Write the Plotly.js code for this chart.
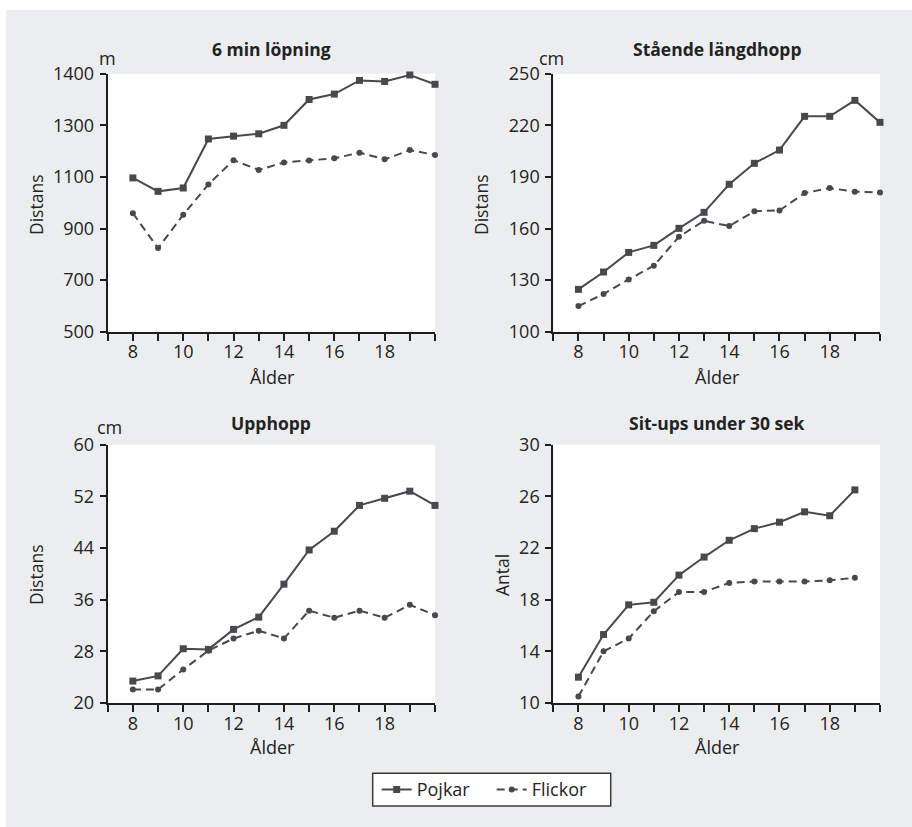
<!DOCTYPE html>
<html>
<head>
<meta charset="utf-8">
<script src="https://cdn.plot.ly/plotly-3.0.1.min.js"></script>
<style>html,body{margin:0;padding:0;background:#fff;}#chart{width:912px;height:827px;}</style>
</head>
<body>
<div id="chart"></div>
<script>
// ---- data ----
const ages = [8, 9, 10, 11, 12, 13, 14, 15, 16, 17, 18, 19, 20];
const agesSitups = [8, 9, 10, 11, 12, 13, 14, 15, 16, 17, 18, 19];

const runBoys   = [1096, 1044, 1057, 1247, 1258, 1267, 1300, 1400, 1421, 1474, 1470, 1495, 1459];
const runGirls  = [959, 824, 953, 1071, 1165, 1127, 1156, 1164, 1172, 1194, 1168, 1204, 1185];

const jumpBoys  = [124.6, 134.7, 146.1, 150.2, 160.1, 169.4, 185.7, 197.9, 205.6, 225.2, 225.2, 234.5, 221.7];
const jumpGirls = [114.9, 121.9, 130.4, 138.4, 155.2, 164.5, 161.4, 170.0, 170.5, 180.6, 183.5, 181.4, 181.0];

const vjumpBoys  = [23.4, 24.2, 28.4, 28.3, 31.4, 33.3, 38.4, 43.7, 46.6, 50.6, 51.7, 52.8, 50.6];
const vjumpGirls = [22.1, 22.1, 25.2, 28.1, 30.0, 31.2, 30.0, 34.3, 33.2, 34.3, 33.2, 35.2, 33.6];

const situpBoys  = [12.0, 15.3, 17.6, 17.8, 19.9, 21.3, 22.6, 23.5, 24.0, 24.8, 24.5, 26.5];
const situpGirls = [10.5, 14.0, 15.0, 17.1, 18.6, 18.6, 19.3, 19.4, 19.4, 19.4, 19.5, 19.7];

const seriesNames = ['Pojkar', 'Flickor'];
const panelTitles = ['6 min löpning', 'Stående längdhopp', 'Upphopp', 'Sit-ups under 30 sek'];
const yTitles = ['Distans', 'Distans', 'Distans', 'Antal'];
const unitLabels = ['m', 'cm', 'cm', ''];
const xTitle = 'Ålder';

const xTickVals = [7, 8, 9, 10, 11, 12, 13, 14, 15, 16, 17, 18, 19, 20];
const xTickText = ['', '8', '', '10', '', '12', '', '14', '', '16', '', '18', '', ''];

const yTickVals1 = [500, 700, 900, 1100, 1300, 1500];
const yTickText1 = ['500', '700', '900', '1100', '1300', '1400'];
const yTickVals2 = [100, 130, 160, 190, 220, 250];
const yTickVals3 = [20, 28, 36, 44, 52, 60];
const yTickVals4 = [10, 14, 18, 22, 26, 30];

// ---- styling ----
const W = 912, H = 827;
const FONT = 'Open Sans, Noto Sans, sans-serif';
const TXT = '#232323';
const LINE = '#48484d';
const AX = '#1e1e1e';
const FS = 18;

function px(x) { return x / W; }
function py(y) { return 1 - y / H; }

const xDom = [[px(107.7), px(435)], [px(553.3), px(880)]];
const yDom = [[py(331.7), py(73.7)], [py(703), py(444.7)]];

function xAxis(dom, anchor) {
  return {
    domain: dom, anchor: anchor, range: [7, 20],
    tickmode: 'array', tickvals: xTickVals, ticktext: xTickText,
    ticks: 'outside', ticklen: 7, tickwidth: 2, tickcolor: AX,
    showline: true, linewidth: 2, linecolor: AX,
    showgrid: false, zeroline: false,
    tickfont: {family: FONT, size: FS, color: TXT},
    ticklabelstandoff: -4, fixedrange: true
  };
}
function yAxis(dom, anchor, range, vals, text) {
  return {
    domain: dom, anchor: anchor, range: range,
    tickmode: 'array', tickvals: vals, ticktext: text || vals.map(String),
    ticks: 'outside', ticklen: 6, tickwidth: 2, tickcolor: AX,
    showline: true, linewidth: 2, linecolor: AX,
    showgrid: false, zeroline: false,
    tickfont: {family: FONT, size: FS, color: TXT},
    ticklabelstandoff: 2, fixedrange: true
  };
}

function pair(x, yb, yg, xa, ya, show) {
  return [
    {x: x, y: yb, xaxis: xa, yaxis: ya, type: 'scatter', mode: 'lines+markers',
     name: seriesNames[0], showlegend: show, cliponaxis: false,
     line: {color: LINE, width: 2},
     marker: {symbol: 'square', size: 7, color: LINE}},
    {x: x, y: yg, xaxis: xa, yaxis: ya, type: 'scatter', mode: 'lines+markers',
     name: seriesNames[1], showlegend: show, cliponaxis: false,
     line: {color: LINE, width: 2, dash: '8px,5px'},
     marker: {symbol: 'circle', size: 6, color: LINE}}
  ];
}

const data = [].concat(
  pair(ages, runBoys, runGirls, 'x', 'y', true),
  pair(ages, jumpBoys, jumpGirls, 'x2', 'y2', false),
  pair(ages, vjumpBoys, vjumpGirls, 'x3', 'y3', false),
  pair(agesSitups, situpBoys, situpGirls, 'x4', 'y4', false)
);

function ann(text, x, y, opts) {
  return Object.assign({
    text: text, x: px(x), y: py(y), xref: 'paper', yref: 'paper',
    showarrow: false, xanchor: 'center', yanchor: 'middle',
    font: {family: FONT, size: FS, color: TXT}
  }, opts || {});
}
const TF = {family: FONT, size: 17.5, color: TXT};

const annotations = [
  ann('<b>' + panelTitles[0] + '</b>', 271.3, 49, {font: TF}),
  ann('<b>' + panelTitles[1] + '</b>', 716.7, 49, {font: TF}),
  ann('<b>' + panelTitles[2] + '</b>', 271.3, 423, {font: TF}),
  ann('<b>' + panelTitles[3] + '</b>', 716.7, 423, {font: TF}),
  ann(unitLabels[0], 107.5, 58),
  ann(unitLabels[1], 551, 58),
  ann(unitLabels[2], 109, 427),
  ann(xTitle, 272, 377),
  ann(xTitle, 717, 377),
  ann(xTitle, 272, 746.5),
  ann(xTitle, 717, 746.5),
  ann(yTitles[0], 36, 205, {textangle: -90, font: {family: FONT, size: 17.5, color: TXT}}),
  ann(yTitles[1], 481, 205, {textangle: -90, font: {family: FONT, size: 17.5, color: TXT}}),
  ann(yTitles[2], 36, 575, {textangle: -90, font: {family: FONT, size: 17.5, color: TXT}}),
  ann(yTitles[3], 502, 575, {textangle: -90, font: {family: FONT, size: 17.5, color: TXT}})
];

const layout = {
  width: W, height: H,
  margin: {l: 0, r: 0, t: 0, b: 0},
  paper_bgcolor: '#ecedef',
  plot_bgcolor: '#ffffff',
  font: {family: FONT, color: TXT},
  showlegend: true,
  legend: {
    orientation: 'h', x: px(491.7), y: py(789.7), xanchor: 'center', yanchor: 'middle',
    bgcolor: 'rgba(0,0,0,0)', borderwidth: 0,
    entrywidth: 70, entrywidthmode: 'pixels', tracegroupgap: 0,
    font: {family: FONT, size: FS, color: TXT}
  },
  shapes: [
    {type: 'rect', xref: 'paper', yref: 'paper', x0: 0, x1: 1, y0: py(10), y1: 1,
     fillcolor: '#ffffff', line: {width: 0}, layer: 'below'},
    {type: 'rect', xref: 'paper', yref: 'paper', x0: 0, x1: px(6), y0: 0, y1: 1,
     fillcolor: '#ffffff', line: {width: 0}, layer: 'below'},
    {type: 'rect', xref: 'paper', yref: 'paper', x0: px(372.7), x1: px(610.7), y0: py(806), y1: py(773.3),
     fillcolor: '#ffffff', line: {width: 1.5, color: '#3a3a3a'}, layer: 'below'}
  ],
  xaxis: xAxis(xDom[0], 'y'),
  yaxis: yAxis(yDom[0], 'x', [500, 1500], yTickVals1, yTickText1),
  xaxis2: xAxis(xDom[1], 'y2'),
  yaxis2: yAxis(yDom[0], 'x2', [100, 250], yTickVals2),
  xaxis3: xAxis(xDom[0], 'y3'),
  yaxis3: yAxis(yDom[1], 'x3', [20, 60], yTickVals3),
  xaxis4: xAxis(xDom[1], 'y4'),
  yaxis4: yAxis(yDom[1], 'x4', [10, 30], yTickVals4),
  annotations: annotations
};

Plotly.newPlot('chart', data, layout, {displayModeBar: false, staticPlot: true});
</script>
</body>
</html>
